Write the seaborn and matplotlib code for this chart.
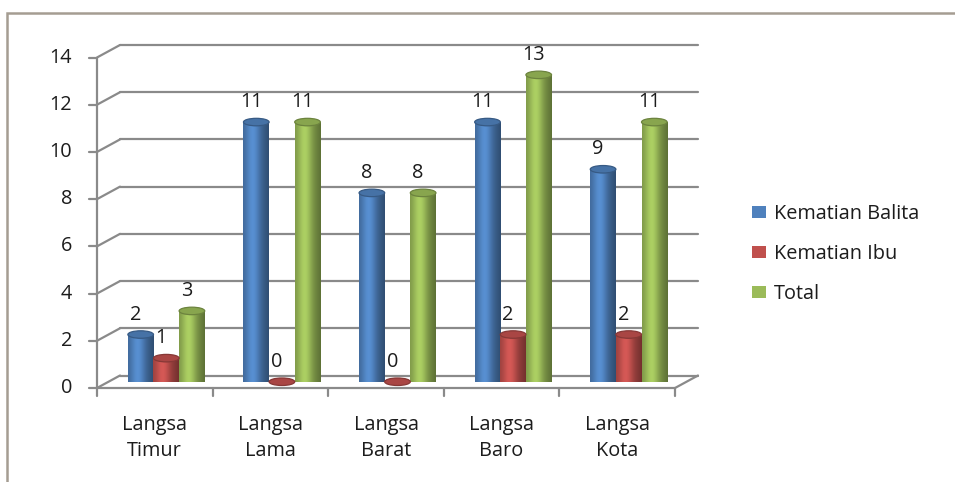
import numpy as np
import pandas as pd
import matplotlib
matplotlib.use("Agg")
import matplotlib.pyplot as plt
import seaborn as sns
from matplotlib.patches import Ellipse, Patch, Rectangle
from matplotlib.transforms import ScaledTranslation
from matplotlib.lines import Line2D

# --- data -----------------------------------------------------------------
categories = ["Langsa\nTimur", "Langsa\nLama", "Langsa\nBarat", "Langsa\nBaro", "Langsa\nKota"]
kematian_balita = [2, 11, 8, 11, 9]
kematian_ibu = [1, 0, 0, 2, 2]
total = [3, 11, 8, 13, 11]
series_names = ["Kematian Balita", "Kematian Ibu", "Total"]
y_ticks = [0, 2, 4, 6, 8, 10, 12, 14]

colors = ["#4F81BD", "#C0504D", "#9BBB59"]

df = pd.DataFrame({
    "Kecamatan": categories * 3,
    "Jumlah": kematian_balita + kematian_ibu + total,
    "Seri": [series_names[0]] * 5 + [series_names[1]] * 5 + [series_names[2]] * 5,
})

sns.set_theme(style="white")
plt.rcParams["font.family"] = ["Open Sans", "DejaVu Sans"]
FS = 14.3
TXT = "#1c1c1c"
GRID = "#8a8a8a"

W, H = 955, 482
fig = plt.figure(figsize=(W / 100, H / 100), dpi=100)

# depth of the pseudo-3D box (pixels), bars stand on the middle plane
DX, DY = 23.0, 12.5
x0_front, x1_front = 97.0, 675.0
y0_front, y14_front = 388.0, 57.5
mid_left = x0_front + DX / 2
mid_w = x1_front - x0_front
mid_bottom = y0_front - DY / 2
mid_h = y0_front - y14_front

ax = fig.add_axes([mid_left / W, (H - mid_bottom) / H, mid_w / W, mid_h / H])
ax.set_facecolor("none")

sns.barplot(data=df, x="Kecamatan", y="Jumlah", hue="Seri", palette=colors,
            width=0.665, saturation=1, ax=ax, legend=False, linewidth=0,
            order=categories, hue_order=series_names)
ax.set_xlim(-0.5, len(categories) - 0.5)
ax.set_ylim(0, 14)
ax.set_axis_off()

px = 1 / 100.0
front = ax.transData + ScaledTranslation(-DX / 2 * px, -DY / 2 * px, fig.dpi_scale_trans)
back = ax.transData + ScaledTranslation(DX / 2 * px, DY / 2 * px, fig.dpi_scale_trans)

xl = (-0.5, len(categories) - 0.5)

# back wall gridlines and the diagonal connectors to the front axis
for v in y_ticks:
    ax.add_line(Line2D(xl, [v, v], transform=back, color=GRID, lw=1.6, zorder=0.5, clip_on=False))
    pf = front.transform((xl[0], v))
    pb = back.transform((xl[0], v))
    fig.add_artist(Line2D([pf[0], pb[0]], [pf[1], pb[1]], transform=None, color=GRID, lw=1.6, zorder=0.5))
    # tick mark and label on the front plane
    fig.add_artist(Line2D([pf[0] - 8, pf[0]], [pf[1], pf[1]], transform=None, color=GRID, lw=1.6))
    fig.text((pf[0] - 25) / W, pf[1] / H, str(v), ha="right", va="center", fontsize=FS, color=TXT)

# floor: front edge, right-hand side edge, front vertical axis
ax.add_line(Line2D(xl, [0, 0], transform=front, color=GRID, lw=1.6, zorder=0.5, clip_on=False))
ax.add_line(Line2D([xl[0], xl[0]], [0, 14], transform=front, color=GRID, lw=1.6, zorder=0.5, clip_on=False))
pf = front.transform((xl[1], 0))
pb = back.transform((xl[1], 0))
fig.add_artist(Line2D([pf[0], pb[0]], [pf[1], pb[1]], transform=None, color=GRID, lw=1.6, zorder=0.5))

# category tick marks and labels
for k in range(len(categories) + 1):
    p = front.transform((k - 0.5, 0))
    fig.add_artist(Line2D([p[0], p[0]], [p[1], p[1] - 8], transform=None, color=GRID, lw=1.6))
for k, lab in enumerate(categories):
    p = front.transform((k, 0))
    fig.text(p[0] / W, (p[1] - 50) / H, lab, ha="center", va="center", fontsize=FS,
             color=TXT, linespacing=1.4)

# cylinder shading on the seaborn bars
u_per_px = 14.0 / mid_h
cap_h = 7.5 * u_per_px


def shade(c):
    rgb = np.array(matplotlib.colors.to_rgb(c))
    t = np.linspace(0, 1, 64)
    f = 0.78 + 0.34 * np.exp(-((t - 0.38) / 0.28) ** 2) - 0.18 * t ** 3
    img = np.clip(rgb[None, :] * f[:, None], 0, 1)
    return img[None, :, :]


bars = [p for p in ax.patches if isinstance(p, Rectangle)]
for bar in bars:
    fc = bar.get_facecolor()
    x, w, h = bar.get_x(), bar.get_width(), bar.get_height()
    cx = x + w / 2
    img = shade(fc)
    im = ax.imshow(img, extent=(x, x + w, 0, max(h, 1e-6)), aspect="auto",
                   interpolation="bilinear", zorder=2)
    im.set_clip_path(bar)
    bottom = Ellipse((cx, 0), w, cap_h, transform=ax.transData, facecolor="none", edgecolor="none")
    ax.add_patch(bottom)
    im2 = ax.imshow(img, extent=(x, x + w, -cap_h, cap_h), aspect="auto",
                    interpolation="bilinear", zorder=1.9)
    im2.set_clip_path(bottom)
    rgb = np.array(matplotlib.colors.to_rgb(fc))
    ax.add_patch(Ellipse((cx, h), w, cap_h, facecolor=rgb * 0.88, edgecolor=rgb * 0.7,
                         lw=0.9, zorder=3, clip_on=False))
    # value label
    off = ScaledTranslation(-5 * px, 20 * px, fig.dpi_scale_trans)
    ax.text(cx, h, f"{h:.0f}", transform=ax.transData + off, ha="center", va="center",
            fontsize=FS, color=TXT, clip_on=False)

ax.set_xlim(-0.5, len(categories) - 0.5)
ax.set_ylim(0, 14)

# legend
handles = [Patch(facecolor=c, edgecolor="none") for c in colors]
fig.legend(handles, series_names, loc="center left", bbox_to_anchor=(752 / W, (H - 254) / H),
           frameon=False, fontsize=FS, handlelength=0.7, handleheight=0.6, handletextpad=0.4,
           labelspacing=1.0, borderaxespad=0, borderpad=0, labelcolor=TXT)

# chart area border
fig.add_artist(Rectangle((7 / W, -0.1), 1.2, (H - 13) / H + 0.1, transform=fig.transFigure,
                         facecolor="none", edgecolor="#a59d92", lw=1.8))

fig.savefig("out.png", dpi=100)
